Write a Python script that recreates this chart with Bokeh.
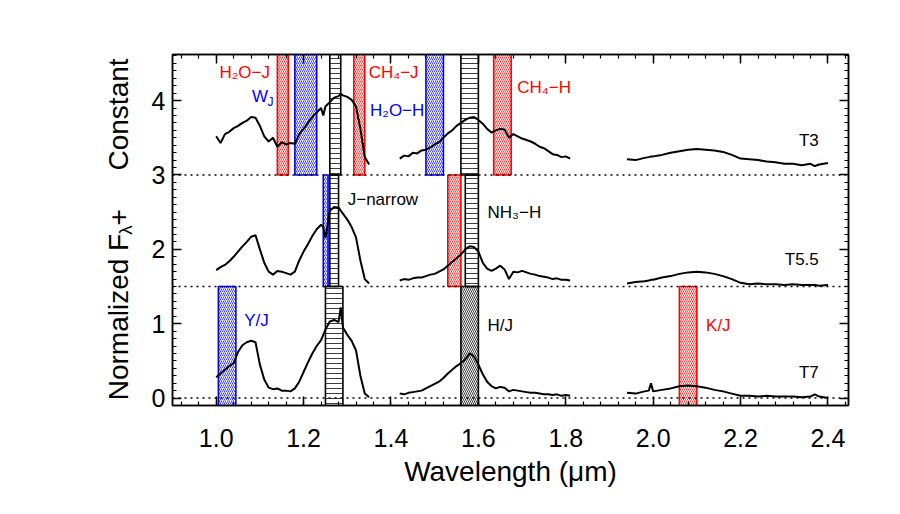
from bokeh.plotting import figure
from bokeh.layouts import row
from bokeh.models import (Range1d, SingleIntervalTicker, LinearAxis, PrintfTickFormatter,
                          CustomJSTickFormatter, Span, ColumnDataSource)
from bokeh.core.properties import value
from bokeh.embed import file_html
from bokeh.resources import INLINE
import math

# ---------------- data (values include the vertical offsets) -------------
offsets = [0.0, 1.5, 3.0]
spec_names = ["T7", "T5.5", "T3"]

# J band
j_wave = [1.00, 1.01, 1.02, 1.03, 1.04, 1.05, 1.06, 1.07, 1.08, 1.09, 1.10, 1.11, 1.12, 1.13,
          1.14, 1.15, 1.16, 1.17, 1.18, 1.19, 1.20, 1.21, 1.22, 1.23, 1.24, 1.245, 1.25, 1.26,
          1.27, 1.28, 1.285, 1.29, 1.30, 1.31, 1.32, 1.33, 1.34, 1.35]
t3_j = [3.52, 3.43, 3.55, 3.58, 3.63, 3.66, 3.70, 3.73, 3.78, 3.77, 3.66, 3.52, 3.45, 3.50,
        3.38, 3.44, 3.41, 3.43, 3.42, 3.55, 3.62, 3.70, 3.78, 3.84, 3.90, 3.80, 3.92, 3.98,
        4.04, 4.06, 4.09, 4.07, 4.05, 4.01, 3.92, 3.62, 3.24, 3.14]
t55_j = [1.72, 1.76, 1.79, 1.84, 1.90, 1.97, 2.04, 2.10, 2.17, 2.19, 2.00, 1.82, 1.70, 1.66,
         1.71, 1.70, 1.68, 1.66, 1.70, 1.85, 1.97, 2.07, 2.18, 2.27, 2.33, 2.30, 2.15, 2.52,
         2.57, 2.56, 2.52, 2.48, 2.40, 2.30, 2.16, 1.85, 1.60, 1.54]
t7_j = [0.28, 0.33, 0.38, 0.43, 0.47, 0.62, 0.71, 0.75, 0.77, 0.75, 0.45, 0.25, 0.14, 0.12,
        0.13, 0.10, 0.10, 0.09, 0.13, 0.22, 0.35, 0.48, 0.60, 0.70, 0.78, 0.85, 0.92, 1.03,
        1.05, 1.02, 1.22, 0.95, 0.85, 0.77, 0.64, 0.30, 0.06, 0.01]

# H band
h_wave = [1.42, 1.43, 1.44, 1.45, 1.46, 1.47, 1.48, 1.49, 1.50, 1.51, 1.52, 1.53, 1.54, 1.55,
          1.56, 1.57, 1.58, 1.59, 1.60, 1.61, 1.62, 1.63, 1.64, 1.65, 1.66, 1.67, 1.68, 1.69,
          1.70, 1.71, 1.72, 1.73, 1.74, 1.75, 1.76, 1.77, 1.78, 1.79, 1.80, 1.81]
t3_h = [3.22, 3.26, 3.25, 3.30, 3.29, 3.33, 3.34, 3.37, 3.41, 3.44, 3.50, 3.56, 3.60, 3.66,
        3.70, 3.74, 3.77, 3.78, 3.74, 3.69, 3.62, 3.57, 3.60, 3.62, 3.61, 3.50, 3.55, 3.52,
        3.49, 3.47, 3.45, 3.42, 3.38, 3.36, 3.32, 3.28, 3.27, 3.24, 3.25, 3.22]
t55_h = [1.58, 1.60, 1.59, 1.61, 1.62, 1.62, 1.64, 1.66, 1.67, 1.70, 1.73, 1.78, 1.83, 1.88,
         1.93, 2.00, 2.04, 2.03, 1.97, 1.82, 1.74, 1.71, 1.74, 1.78, 1.73, 1.60, 1.70, 1.69,
         1.71, 1.69, 1.67, 1.66, 1.64, 1.63, 1.62, 1.60, 1.61, 1.59, 1.59, 1.58]
t7_h = [0.06, 0.05, 0.07, 0.08, 0.09, 0.10, 0.13, 0.16, 0.19, 0.22, 0.27, 0.33, 0.38, 0.43,
        0.47, 0.52, 0.60, 0.56, 0.45, 0.32, 0.22, 0.16, 0.13, 0.15, 0.14, 0.09, 0.11, 0.10,
        0.09, 0.08, 0.07, 0.07, 0.06, 0.05, 0.05, 0.04, 0.05, 0.03, 0.04, 0.03]

# K band
k_wave = [1.94, 1.96, 1.98, 1.99, 1.995, 2.00, 2.02, 2.04, 2.06, 2.08, 2.10, 2.12, 2.14, 2.16,
          2.18, 2.20, 2.22, 2.24, 2.26, 2.28, 2.30, 2.32, 2.34, 2.36, 2.37, 2.38, 2.40]
t3_k = [3.21, 3.20, 3.23, 3.24, 3.25, 3.25, 3.27, 3.30, 3.32, 3.34, 3.35, 3.34, 3.33, 3.31,
        3.27, 3.22, 3.21, 3.20, 3.18, 3.17, 3.15, 3.15, 3.13, 3.15, 3.12, 3.14, 3.16]
t55_k = [1.54, 1.56, 1.57, 1.58, 1.59, 1.59, 1.62, 1.64, 1.67, 1.69, 1.70, 1.69, 1.67, 1.64,
         1.60, 1.55, 1.53, 1.54, 1.53, 1.53, 1.52, 1.53, 1.52, 1.52, 1.52, 1.51, 1.52]
t7_k = [0.07, 0.06, 0.09, 0.10, 0.20, 0.09, 0.11, 0.13, 0.16, 0.17, 0.16, 0.14, 0.11, 0.09,
        0.06, 0.03, 0.03, 0.02, 0.03, 0.02, 0.02, 0.02, 0.01, 0.02, 0.05, 0.02, 0.00]

# index bands: left, right, bottom, top, colour, hatch
band_left = [1.14, 1.18, 1.26, 1.315, 1.48, 1.56, 1.635,
             1.245, 1.26, 1.53, 1.57,
             1.005, 1.25, 1.56, 2.06]
band_right = [1.165, 1.23, 1.285, 1.34, 1.52, 1.60, 1.675,
              1.256, 1.28, 1.56, 1.60,
              1.045, 1.29, 1.60, 2.10]
band_bottom = [3.0] * 7 + [1.5] * 4 + [-0.5] * 4
band_top = [5.0] * 7 + [3.0] * 4 + [1.5] * 4
band_color = ["red", "blue", "black", "red", "blue", "black", "red",
              "blue", "black", "red", "black",
              "blue", "black", "black", "red"]
band_hatch = ["\\", "/", "-", "\\", "/", "-", "\\",
              "/", "-", "\\", "-",
              "/", "-", "\\", "\\"]

# annotation labels
lab_text = ["H₂O−J", "CH₄−J", "H₂O−H", "CH₄−H", "T3", "J−narrow", "NH₃−H", "T5.5",
            "Y/J", "H/J", "K/J", "T7"]
lab_x = [1.123, 1.349, 1.352, 1.689, 2.379, 1.301, 1.621, 2.379, 1.064, 1.621, 2.121, 2.379]
lab_y = [4.38, 4.38, 3.87, 4.18, 3.46, 2.67, 2.49, 1.87, 1.04, 0.97, 0.97, 0.34]
lab_color = ["red", "red", "blue", "red", "black", "black", "black", "black",
             "blue", "black", "red", "black"]
lab_align = ["right", "left", "left", "left", "right", "left", "left", "right",
             "left", "left", "left", "right"]

# y-axis title pieces (text, position along the axis in data units, font size)
ytitle_text = ["Normalized F", "λ", "+", "Constant"]
ytitle_y = [-0.03, 2.26, 2.43, 3.06]
ytitle_size = ["28px", "19px", "28px", "28px"]
ytitle_align = ["left", "center", "center", "left"]
ytitle_x = [118, 125, 118, 118]

FONT = "Liberation Sans"
LW = 146   # width of the strip that carries the y-axis title

# ---------------- main figure -------------
p = figure(width=884 - LW, height=498, output_backend="svg", toolbar_location=None,
           x_range=Range1d(0.9, 2.447), y_range=Range1d(-0.1, 4.62),
           min_border_left=172 - LW, min_border_right=36, min_border_top=54, min_border_bottom=93)
p.background_fill_color = "white"
p.border_fill_color = None
p.grid.visible = False
p.outline_line_color = "black"
p.outline_line_width = 1.5

xt = SingleIntervalTicker(interval=0.2, num_minor_ticks=5)
yt = SingleIntervalTicker(interval=1, num_minor_ticks=10)


def style_axis(ax):
    ax.axis_line_width = 1.5
    ax.axis_line_color = "black"
    ax.major_tick_in = 9
    ax.major_tick_out = 0
    ax.minor_tick_in = 4
    ax.minor_tick_out = 0
    ax.major_tick_line_width = 1.5
    ax.minor_tick_line_width = 1.2
    ax.major_tick_line_color = "black"
    ax.minor_tick_line_color = "black"
    ax.major_label_text_font = FONT
    ax.major_label_text_font_size = "25px"
    ax.major_label_text_color = "black"


p.xaxis.ticker = xt
p.xaxis.formatter = PrintfTickFormatter(format="%.1f")
style_axis(p.xaxis[0])
p.xaxis.major_label_standoff = 23
p.xaxis.axis_label = "Wavelength (μm)"
p.xaxis.axis_label_text_font = FONT
p.xaxis.axis_label_text_font_style = "normal"
p.xaxis.axis_label_text_font_size = "28px"
p.xaxis.axis_label_text_color = "black"
p.xaxis.axis_label_standoff = 6

p.yaxis.ticker = yt
p.yaxis.formatter = PrintfTickFormatter(format="%d")
style_axis(p.yaxis[0])
p.yaxis.major_label_standoff = 7
p.yaxis.major_label_orientation = "horizontal"

blank = CustomJSTickFormatter(code="return '';")
ra = LinearAxis(ticker=yt, formatter=blank)
style_axis(ra)
p.add_layout(ra, "right")
ta = LinearAxis(ticker=xt, formatter=blank)
style_axis(ta)
p.add_layout(ta, "above")

# bands
for l, r, b, t, c, h in zip(band_left, band_right, band_bottom, band_top, band_color, band_hatch):
    hs = 5 if h == "-" else 4
    p.quad(left=l, right=r, bottom=b, top=t, fill_color=None,
           line_color=c, line_width=1.6,
           hatch_pattern=h, hatch_color=c, hatch_scale=hs, hatch_weight=0.9, hatch_alpha=0.85)

# dotted baselines
for off in offsets:
    p.add_layout(Span(location=off, dimension="width", line_color="black",
                      line_width=1.5, line_dash="2 4"))

# spectra
for wave, series in ((j_wave, (t7_j, t55_j, t3_j)),
                     (h_wave, (t7_h, t55_h, t3_h)),
                     (k_wave, (t7_k, t55_k, t3_k))):
    for s in series:
        p.line(wave, s, line_color="black", line_width=2)

# labels
src = ColumnDataSource(dict(x=lab_x, y=lab_y, text=lab_text, color=lab_color, align=lab_align))
p.text(x="x", y="y", text="text", text_color="color", text_align="align",
       text_baseline="middle", text_font=value(FONT), text_font_size="17px", source=src)
# W with subscript J
p.text(x=[1.082], y=[4.05], text=["W"], text_color="blue", text_align="left",
       text_baseline="middle", text_font=value(FONT), text_font_size="17px")
p.text(x=[1.1175], y=[3.98], text=["J"], text_color="blue", text_align="left",
       text_baseline="middle", text_font=value(FONT), text_font_size="12px")

# ---------------- strip with the y-axis title (shares the y range; x in pixels) -------------
q = figure(width=LW, height=498, output_backend="svg", toolbar_location=None,
           x_range=Range1d(0, LW), y_range=p.y_range,
           min_border_left=0, min_border_right=0, min_border_top=54, min_border_bottom=93)
q.axis.visible = False
q.grid.visible = False
q.outline_line_color = None
q.background_fill_color = None
q.border_fill_color = None
ysrc = ColumnDataSource(dict(x=ytitle_x, y=ytitle_y, text=ytitle_text, size=ytitle_size,
                             align=ytitle_align))
q.text(x="x", y="y", text="text", angle=math.pi / 2, text_align="align",
       text_baseline="alphabetic", text_font=value(FONT), text_font_size="size",
       text_color="black", source=ysrc)

layout = row(q, p, spacing=0)
open("out.html", "w").write(file_html(layout, INLINE))
